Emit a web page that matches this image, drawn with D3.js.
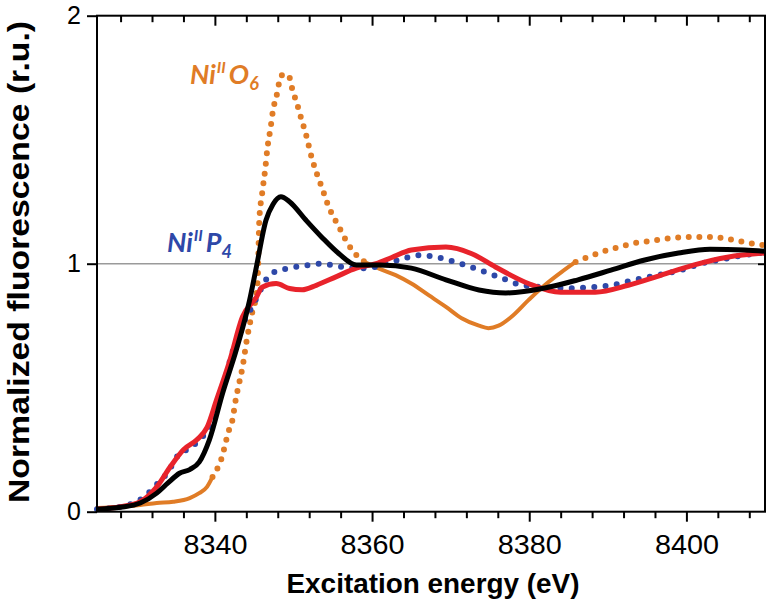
<!DOCTYPE html>
<html>
<head>
<meta charset="utf-8">
<script src="https://cdn.jsdelivr.net/npm/d3@7"></script>
<style>
  html, body { margin: 0; padding: 0; background: #fff; }
  svg { display: block; }
</style>
</head>
<body>
<svg id="chart" width="772" height="609"></svg>
<script>
// ---------------- DATA ----------------
const xDomain = [8325, 8410];
const yDomain = [0, 2];
const xTickValues = d3.range(8328, 8410, 4);
const xTickLabels = [8340, 8360, 8380, 8400];
const yTickLabels = [0, 1, 2];

// black solid curve
const seriesBlack = [[8325,0.01],[8328,0.018],[8330.5,0.035],[8332.6,0.075],[8334,0.115],[8335.5,0.155],[8336.8,0.17],[8338,0.2],[8339.3,0.29],[8341,0.48],[8342.7,0.65],[8344.4,0.85],[8345.3,0.99],[8346.5,1.175],[8347.4,1.24],[8348.4,1.27],[8349.5,1.25],[8351.6,1.175],[8353.6,1.107],[8355.8,1.04],[8358,0.995],[8361,0.995],[8365,0.982],[8369.4,0.935],[8373.6,0.894],[8377,0.882],[8382,0.902],[8386.2,0.935],[8390.4,0.974],[8394.7,1.015],[8399,1.043],[8403,1.058],[8407.4,1.055],[8410,1.05]];

// red solid curve
const seriesRed = [[8325,0.01],[8328,0.02],[8330.5,0.04],[8332.6,0.10],[8334.3,0.18],[8336,0.25],[8337.7,0.29],[8339,0.34],[8340.2,0.45],[8341.9,0.61],[8343.5,0.785],[8345.3,0.866],[8346,0.905],[8347.8,0.92],[8349.5,0.90],[8351.1,0.895],[8352.9,0.913],[8355.4,0.947],[8358,0.982],[8360.5,1.0],[8362.5,1.025],[8365,1.055],[8369.4,1.067],[8372.7,1.04],[8375.7,0.987],[8379.9,0.92],[8384,0.885],[8388.4,0.885],[8392.6,0.913],[8396.8,0.954],[8401,0.995],[8405.2,1.026],[8410,1.043]];

// blue dotted curve (Ni(II)P4)
const seriesBlue = [[8325,0.01],[8328,0.02],[8331,0.06],[8332.6,0.11],[8333.9,0.155],[8334.7,0.195],[8335.5,0.235],[8336.8,0.255],[8338,0.29],[8339.1,0.33],[8340.5,0.44],[8342.3,0.65],[8344,0.785],[8344.8,0.83],[8345.6,0.88],[8346.3,0.925],[8347.6,0.967],[8349.1,0.98],[8351.8,0.994],[8353.3,1.0],[8356.2,0.987],[8359.2,0.982],[8363.4,1.015],[8366.2,1.035],[8367.6,1.03],[8370.6,1.007],[8373.6,0.975],[8376.1,0.947],[8379,0.914],[8382,0.905],[8385,0.901],[8387.9,0.905],[8390.4,0.913],[8393.5,0.935],[8396.4,0.954],[8399.3,0.974],[8401.8,1.0],[8404.9,1.02],[8407.4,1.035],[8410,1.045]];

// orange curve (Ni(II)O6): dense parts look solid, sparse parts dotted
const orangePre = [[8325,0.015],[8328,0.02],[8330.5,0.027],[8332.6,0.035],[8334.7,0.04],[8336.8,0.055],[8338,0.075],[8339,0.1],[8339.7,0.14]];
const orangeEdge = [[8339.7,0.14],[8340.4,0.18],[8340.9,0.22],[8341.3,0.27],[8341.7,0.32],[8342.2,0.365],[8342.7,0.46],[8343.1,0.52],[8343.5,0.58],[8344.1,0.70],[8344.8,0.81],[8345.3,0.88],[8345.45,0.94],[8345.66,1.18],[8346,1.28],[8346.4,1.38],[8346.7,1.47],[8347.1,1.55],[8347.4,1.62],[8347.8,1.67],[8348.4,1.755],[8348.8,1.765],[8349.5,1.75],[8349.8,1.71],[8350.5,1.64],[8350.9,1.595],[8351.6,1.52],[8352.3,1.43],[8353,1.36],[8353.7,1.30],[8354.3,1.245],[8354.9,1.20],[8355.6,1.16],[8356.2,1.123],[8356.8,1.087],[8357.5,1.054],[8358.3,1.025],[8359.2,1.005]];
const orangeMid = [[8359.2,1.005],[8360.9,0.98],[8363,0.954],[8365,0.92],[8367.2,0.873],[8369.4,0.826],[8371.4,0.78],[8373.6,0.75],[8374.8,0.74],[8376.1,0.75],[8377.7,0.785],[8379.9,0.853],[8382,0.914],[8384.1,0.966],[8385.9,1.007]];
const orangePost = [[8385.9,1.007],[8387.4,1.026],[8388.8,1.042],[8390,1.055],[8391.4,1.067],[8392.8,1.079],[8394.1,1.087],[8395.5,1.091],[8396.8,1.099],[8398,1.103],[8399.4,1.107],[8400.7,1.108],[8402,1.108],[8403.3,1.107],[8404.7,1.103],[8406,1.095],[8407.4,1.087],[8408.7,1.079],[8410,1.075]];

const labelO6 = { base: "Ni", sup: "II", mid: "O", sub: "6" };
const labelP4 = { base: "Ni", sup: "II", mid: "P", sub: "4" };
const xTitle = "Excitation energy (eV)";
const yTitle = "Normalized fluorescence (r.u.)";

// ---------------- LAYOUT ----------------
const W = 772, H = 609;
const m = { left: 97, right: 765, top: 15.7, bottom: 511.7 };
const C = { orange: "#E07C26", blue: "#2E48A8", red: "#E8232B", black: "#000000" };

const svg = d3.select("#chart");
const x = d3.scaleLinear().domain(xDomain).range([m.left, m.right]);
const y = d3.scaleLinear().domain(yDomain).range([m.bottom, m.top]);
const line = d3.line().x(d => x(d[0])).y(d => y(d[1])).curve(d3.curveMonotoneX);

const fontAxis = "'Liberation Sans', Arial, sans-serif";

// reference line at 1
svg.append("line")
  .attr("x1", x(xDomain[0])).attr("x2", m.right - 7)
  .attr("y1", y(1)).attr("y2", y(1))
  .attr("stroke", "#9a9a9a").attr("stroke-width", 1.5);

// curves
const plot = svg.append("g");
plot.append("path").datum(orangePre).attr("d", line)
  .attr("fill", "none").attr("stroke", C.orange).attr("stroke-width", 4).attr("stroke-linecap", "round");
plot.append("path").datum(orangeMid).attr("d", line)
  .attr("fill", "none").attr("stroke", C.orange).attr("stroke-width", 4).attr("stroke-linecap", "round");
plot.append("path").datum(orangeEdge).attr("d", line)
  .attr("fill", "none").attr("stroke", C.orange).attr("stroke-width", 6)
  .attr("stroke-linecap", "round").attr("stroke-dasharray", "0 10");
plot.append("path").datum(orangePost).attr("d", line)
  .attr("fill", "none").attr("stroke", C.orange).attr("stroke-width", 6)
  .attr("stroke-linecap", "round").attr("stroke-dasharray", "0 10.6");
plot.append("path").datum(seriesBlue).attr("d", line)
  .attr("fill", "none").attr("stroke", C.blue).attr("stroke-width", 6)
  .attr("stroke-linecap", "round").attr("stroke-dasharray", "0 11.3");
plot.append("path").datum(seriesRed).attr("d", line)
  .attr("fill", "none").attr("stroke", C.red).attr("stroke-width", 5).attr("stroke-linejoin", "round");
plot.append("path").datum(seriesBlack).attr("d", line)
  .attr("fill", "none").attr("stroke", C.black).attr("stroke-width", 5).attr("stroke-linejoin", "round");

// frame
const frame = svg.append("g").attr("stroke", "#000").attr("stroke-width", 2).attr("fill", "none");
frame.append("rect").attr("x", m.left).attr("y", m.top)
  .attr("width", m.right - m.left).attr("height", m.bottom - m.top);

// bottom axis (outward ticks)
const isMajor = v => xTickLabels.includes(v);
const gx = svg.append("g").attr("transform", `translate(0,${m.bottom})`)
  .call(d3.axisBottom(x).tickValues(xTickValues).tickSizeOuter(0).tickPadding(16)
    .tickFormat(v => isMajor(v) ? d3.format("d")(v) : ""));
gx.select(".domain").remove();
gx.selectAll(".tick line").attr("stroke", "#000").attr("stroke-width", 2)
  .attr("y2", d => isMajor(d) ? 10 : 6.5);
gx.selectAll(".tick text").attr("font-family", fontAxis).attr("font-size", 28).attr("fill", "#000")
  .attr("textLength", d => isMajor(d) ? 64 : null).attr("lengthAdjust", "spacingAndGlyphs");

// top axis (inward ticks)
const gt = svg.append("g").attr("transform", `translate(0,${m.top})`)
  .call(d3.axisBottom(x).tickValues(xTickValues).tickSizeOuter(0).tickFormat(""));
gt.select(".domain").remove();
gt.selectAll(".tick line").attr("stroke", "#000").attr("stroke-width", 2)
  .attr("y2", d => isMajor(d) ? 10 : 6.5);

// left axis (outward ticks)
const gy = svg.append("g").attr("transform", `translate(${m.left},0)`)
  .call(d3.axisLeft(y).tickValues(yTickLabels).tickSize(10).tickSizeOuter(0).tickPadding(6).tickFormat(d3.format("d")));
gy.select(".domain").remove();
gy.selectAll(".tick line").attr("stroke", "#000").attr("stroke-width", 2);
gy.selectAll(".tick text").attr("font-family", fontAxis).attr("font-size", 25).attr("fill", "#000");

// right axis inner tick at 1
const gr = svg.append("g").attr("transform", `translate(${m.right},0)`)
  .call(d3.axisLeft(y).tickValues([1]).tickSize(7).tickSizeOuter(0).tickFormat(""));
gr.select(".domain").remove();
gr.selectAll(".tick line").attr("stroke", "#000").attr("stroke-width", 2);

// axis titles
svg.append("text").attr("x", 433).attr("y", 593).attr("text-anchor", "middle")
  .attr("font-family", fontAxis).attr("font-weight", "bold").attr("font-size", 28)
  .attr("textLength", 293).attr("lengthAdjust", "spacingAndGlyphs")
  .text(xTitle);
svg.append("text").attr("transform", `translate(29,262) rotate(-90)`).attr("text-anchor", "middle")
  .attr("font-family", fontAxis).attr("font-weight", "bold").attr("font-size", 29)
  .attr("textLength", 482).attr("lengthAdjust", "spacingAndGlyphs")
  .text(yTitle);

// series labels
function addLabel(lbl, px, py, color) {
  const t = svg.append("text").attr("x", px).attr("y", py)
    .attr("font-family", "Lato, 'Open Sans', sans-serif").attr("font-weight", "bold")
    .attr("font-style", "italic").attr("font-size", 27).attr("fill", color);
  t.append("tspan").text(lbl.base);
  t.append("tspan").attr("font-size", 16).attr("dy", -11).attr("dx", 1).text(lbl.sup);
  t.append("tspan").attr("dy", 11).attr("dx", 3).text(lbl.mid);
  t.append("tspan").attr("font-size", 18).attr("dy", 6).text(lbl.sub);
}
addLabel(labelO6, 190, 84, C.orange);
addLabel(labelP4, 167, 252, C.blue);
</script>
</body>
</html>
